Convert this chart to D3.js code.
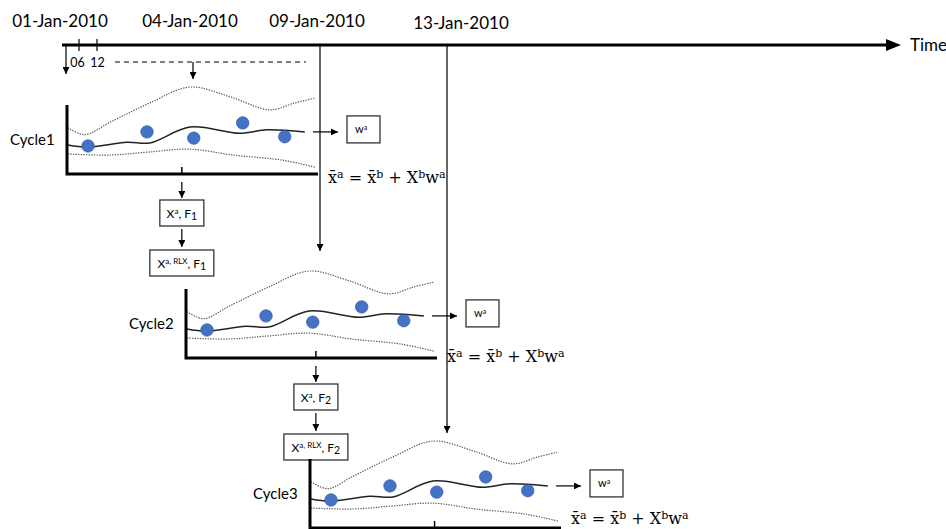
<!DOCTYPE html>
<html><head><meta charset="utf-8">
<script src="https://cdn.jsdelivr.net/npm/d3@7"></script>
<style>body{margin:0;background:#fff}svg{display:block}</style>
</head><body>
<script>
// ---- data ----
const dates = ["01-Jan-2010", "04-Jan-2010", "09-Jan-2010", "13-Jan-2010"];
const hourTicks = [6, 12];
const hourLabels = ["06", "12"];
const cycles = ["Cycle1", "Cycle2", "Cycle3"];
const forcingIdx = ["1", "2"];
// schematic curves (time in days, value in arbitrary units)
const meanT = [0.03, 0.64, 1.91, 2.64, 3.92, 5.51, 6.37, 7.58];
const meanV = [4.2, 3.9, 4.6, 4.5, 6.8, 5.9, 6.4, 6.1];
const upperT = [0.03, 0.57, 1.37, 2.64, 3.92, 5.19, 6.46, 7.26, 7.9];
const upperV = [6.7, 5.7, 7.5, 10.3, 12.6, 11.2, 9.3, 10.3, 11.0];
const lowerT = [0.03, 1.37, 2.64, 3.92, 5.29, 6.88, 7.9];
const lowerV = [2.9, 2.75, 3.2, 3.6, 2.75, 2.0, 1.0];
const obsT = [0.67, 2.55, 4.04, 5.6, 6.94];
const obsV = [4.06, 6.1, 5.2, 7.4, 5.4];
const tickDay = [3.66, 4.14, 3.97];

// ---- layout ----
const W = 946, H = 529;
const timeY = 45;
const panels = [
  {ox: 67, oy: 174, eqDy: 9},
  {ox: 186, oy: 358, eqDy: 4},
  {ox: 310, oy: 528, eqDy: -4}
];
const PW = 251, PH = 69;
const sans = "Lato, 'Open Sans', sans-serif";
const serif = "'DejaVu Serif', 'Liberation Serif', serif";

const svg = d3.select("body").append("svg").attr("width", W).attr("height", H);
const defs = svg.append("defs");
defs.append("marker").attr("id", "ah").attr("viewBox", "0 0 10 10")
  .attr("refX", 10).attr("refY", 5).attr("markerWidth", 7).attr("markerHeight", 7)
  .attr("markerUnits", "userSpaceOnUse").attr("orient", "auto")
  .append("path").attr("d", "M0,0L10,5L0,10Z").attr("fill", "#000");

const dateX = d3.scalePoint().domain(dates).range([66, 447]);
const hourX = d3.scaleLinear().domain([0, 12]).range([61, 97]);

// timeline
svg.append("line").attr("x1", 62).attr("x2", 888).attr("y1", timeY).attr("y2", timeY)
  .attr("stroke", "#000").attr("stroke-width", 3);
svg.append("path").attr("d", `M886,${timeY-6}L901,${timeY}L886,${timeY+6}Z`).attr("fill", "#000");
svg.append("text").attr("x", 910).attr("y", timeY + 6).attr("font-family", sans)
  .attr("font-size", 17).text("Time");

// date labels
svg.selectAll("text.date").data(dates).join("text").attr("class", "date")
  .attr("x", (d, i) => dateX(d) + (i === 3 ? 14 : (i === 0 ? -6 : -3)))
  .attr("y", (d, i) => i === 3 ? 29 : 27)
  .attr("text-anchor", "middle").attr("font-family", sans).attr("font-size", 17)
  .text(d => d);

// hour ticks
svg.selectAll("line.htick").data(hourTicks).join("line").attr("class", "htick")
  .attr("x1", d => hourX(d)).attr("x2", d => hourX(d))
  .attr("y1", timeY - 6).attr("y2", timeY + 6).attr("stroke", "#000").attr("stroke-width", 1.2);
svg.selectAll("text.hlab").data(hourLabels).join("text").attr("class", "hlab")
  .attr("x", (d, i) => hourX(hourTicks[i]) + (i === 0 ? -1.5 : 0.5))
  .attr("y", 67).attr("text-anchor", "middle").attr("font-family", sans).attr("font-size", 12.5)
  .text(d => d);
svg.append("line").attr("x1", 115).attr("x2", 306).attr("y1", 62).attr("y2", 62)
  .attr("stroke", "#000").attr("stroke-width", 1).attr("stroke-dasharray", "5,4");

function arrow(x1, y1, x2, y2) {
  svg.append("line").attr("x1", x1).attr("y1", y1).attr("x2", x2).attr("y2", y2)
    .attr("stroke", "#000").attr("stroke-width", 1.2).attr("marker-end", "url(#ah)");
}
arrow(dateX(dates[0]), timeY, dateX(dates[0]), 74);
arrow(dateX(dates[1]), 62, dateX(dates[1]), 79);
arrow(dateX(dates[2]), timeY, dateX(dates[2]), 251);
arrow(dateX(dates[3]), timeY, dateX(dates[3]), 433);

function supText(sel, parts, supSize, supShift, subSize, subShift) {
  parts.forEach(p => {
    const t = sel.append("tspan").text(p[0]);
    if (p[1] === "sup") t.attr("font-size", supSize).attr("baseline-shift", supShift);
    else if (p[1] === "sub") t.attr("font-size", subSize).attr("baseline-shift", subShift);
  });
}

function box(cx, top, w, h, parts) {
  svg.append("rect").attr("x", cx - w / 2).attr("y", top).attr("width", w).attr("height", h)
    .attr("fill", "#fff").attr("stroke", "#333").attr("stroke-width", 1.3);
  const t = svg.append("text").attr("x", cx).attr("y", top + h / 2 + 4.5)
    .attr("text-anchor", "middle").attr("font-family", sans).attr("font-size", 12);
  supText(t, parts, 8, 4, 10.5, -2);
}

panels.forEach((p, i) => {
  const xs = d3.scaleLinear().domain([0, 8]).range([p.ox, p.ox + PW]);
  const ys = d3.scaleLinear().domain([0, 10]).range([p.oy, p.oy - PH]);
  const g = svg.append("g");
  const line = (T, V) => d3.line().x((d, k) => xs(T[k])).y((d, k) => ys(V[k]))
    .curve(d3.curveCatmullRom.alpha(0.5))(T);
  g.append("path").attr("d", line(upperT, upperV)).attr("fill", "none")
    .attr("stroke", "#555").attr("stroke-width", 1.2).attr("stroke-dasharray", "1.3,1.3");
  g.append("path").attr("d", line(lowerT, lowerV)).attr("fill", "none")
    .attr("stroke", "#555").attr("stroke-width", 1.2).attr("stroke-dasharray", "1.3,1.3");
  g.append("path").attr("d", line(meanT, meanV)).attr("fill", "none")
    .attr("stroke", "#222").attr("stroke-width", 1.5);
  g.selectAll("circle").data(obsT).join("circle")
    .attr("cx", (d, k) => xs(obsT[k])).attr("cy", (d, k) => ys(obsV[k])).attr("r", 6.2)
    .attr("fill", "#4472C4").attr("stroke", "#3660a8").attr("stroke-width", 0.8);
  // axes
  g.append("path").attr("d", `M${xs(0)},${ys(10)}V${ys(0)}H${xs(8)}`).attr("fill", "none")
    .attr("stroke", "#000").attr("stroke-width", 3);
  g.append("line").attr("x1", xs(tickDay[i])).attr("x2", xs(tickDay[i]))
    .attr("y1", ys(0) - 7).attr("y2", ys(0)).attr("stroke", "#000").attr("stroke-width", 1.5);
  g.append("text").attr("x", p.ox - 57).attr("y", p.oy - 29).attr("font-family", sans)
    .attr("font-size", 15).text(cycles[i]);
  // output arrow and w^a box
  const ay = ys(meanV[meanV.length - 1]);
  arrow(xs(8) - 5, ay, xs(8) + 20, ay);
  svg.append("rect").attr("x", xs(8) + 29).attr("y", ay - 16).attr("width", 33).attr("height", 27)
    .attr("fill", "#fff").attr("stroke", "#333").attr("stroke-width", 1.3);
  const wt = svg.append("text").attr("x", xs(8) + 37).attr("y", ay + 1)
    .attr("font-family", sans).attr("font-size", 11);
  supText(wt, [["w"], ["a", "sup"]], 7, 3, 7, -2);
  // equation
  const eq = svg.append("text").attr("x", xs(8) + 10).attr("y", p.oy + p.eqDy)
    .attr("font-family", serif).attr("font-size", 16);
  supText(eq, [["x\u0304"], ["a", "sup"], [" =  x\u0304"], ["b", "sup"], [" + X"], ["b", "sup"], ["w"], ["a", "sup"]], 11, 5, 11, -2);
  // analysis boxes below
  if (i < forcingIdx.length) {
    const cx = xs(tickDay[i]);
    arrow(cx, p.oy + 8, cx, p.oy + 24);
    box(cx, p.oy + 26, 44, 26, [["X"], ["a", "sup"], [", F"], [forcingIdx[i], "sub"]]);
    arrow(cx, p.oy + 55, cx, p.oy + 73);
    box(cx, p.oy + 76, 64, 26, [["X"], ["a, RLX", "sup"], [", F"], [forcingIdx[i], "sub"]]);
  }
});
</script>
</body></html>
